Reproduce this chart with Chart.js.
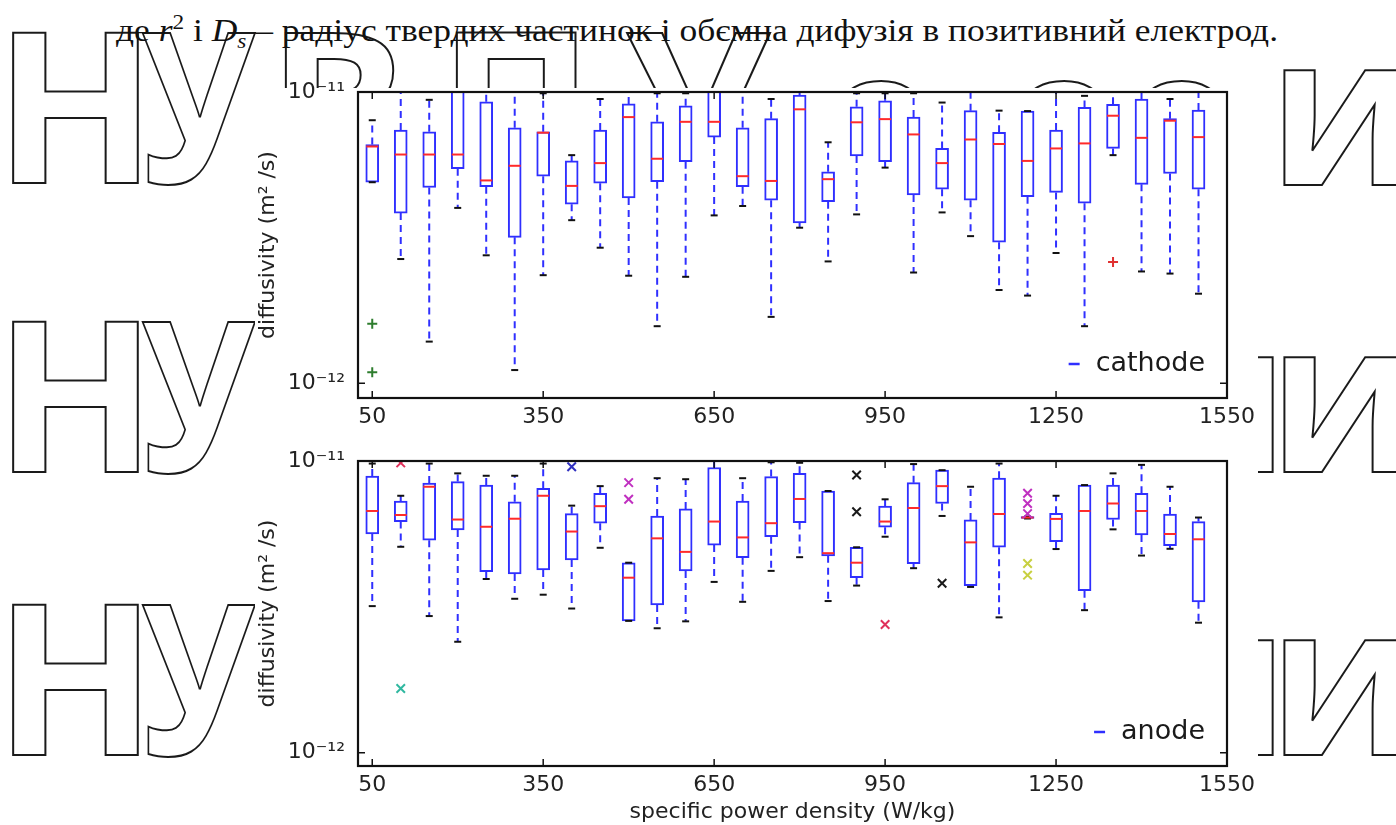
<!DOCTYPE html>
<html><head><meta charset="utf-8">
<script src="https://cdn.jsdelivr.net/npm/chart.js@4.4.0/dist/chart.umd.min.js"></script>
<style>
html,body{margin:0;padding:0;background:#fff;width:1396px;height:825px;overflow:hidden;position:relative;}
#bg{position:absolute;left:0;top:0;}
#cover{position:absolute;left:255px;top:88px;width:1003px;height:737px;background:#fff;}
canvas{position:absolute;}
</style></head><body>
<svg id="bg" width="1396" height="825">
  <g font-family="Open Sans" font-weight="700" font-size="210" fill="none" stroke="#1a1a1a" stroke-width="2">
    <text x="-6" y="183" textLength="163" lengthAdjust="spacingAndGlyphs">Н</text>
    <text x="141" y="183" textLength="114" lengthAdjust="spacingAndGlyphs">У</text>
    <text x="-6" y="472" textLength="163" lengthAdjust="spacingAndGlyphs">Н</text>
    <text x="141" y="472" textLength="114" lengthAdjust="spacingAndGlyphs">У</text>
    <text x="-6" y="755" textLength="163" lengthAdjust="spacingAndGlyphs">Н</text>
    <text x="141" y="755" textLength="114" lengthAdjust="spacingAndGlyphs">У</text>
    <text x="267" y="183">В</text>
    <text x="438" y="183">П</text>
    <text x="625" y="183" textLength="145" lengthAdjust="spacingAndGlyphs">У</text>
    <text x="822" y="187" font-size="190">о</text>
    <text x="1005" y="187" font-size="190">оо</text>
    <text x="1268" y="185">и</text>
    <text x="1150" y="472">н</text>
    <text x="1268" y="472">и</text>
    <text x="1150" y="755">н</text>
    <text x="1268" y="755">и</text>
  </g>
  <text x="116" y="41" font-family="Liberation Serif" font-size="32" fill="#111" textLength="1162" lengthAdjust="spacingAndGlyphs">де <tspan font-style="italic">r</tspan><tspan dy="-12" font-size="21">2</tspan><tspan dy="12"> і </tspan><tspan font-style="italic">D</tspan><tspan font-style="italic" dy="7" font-size="21">s</tspan><tspan dy="-7"> – радіус твердих частинок і обємна дифузія в позитивний електрод.</tspan></text>
</svg>
<div id="cover"></div>
<canvas id="c1" width="1030" height="380" style="left:250px;top:60px;width:1030px;height:380px"></canvas>
<canvas id="c2" width="1030" height="385" style="left:250px;top:440px;width:1030px;height:385px"></canvas>
<script>
// ---- categories (specific power density, W/kg) ----
const powerDensity = [50,100,150,200,250,300,350,400,450,500,550,600,650,700,750,800,850,900,950,1000,1050,1100,1150,1200,1250,1300,1350,1400,1450,1500];
const xTickValues = [50,350,650,950,1250,1550];
const yTickValues = [1e-12, 1e-11];
const yTickLabels = ['10⁻¹²', '10⁻¹¹'];

// ---- cathode diffusivity (m²/s) ----
const cathodeMax    = [8.0e-12,11e-12,9.4e-12,11.5e-12,11e-12,11e-12,9.9e-12,6.07e-12,9.46e-12,11e-12,9.9e-12,9.9e-12,11e-12,10.5e-12,9.46e-12,11e-12,6.72e-12,9.9e-12,9.9e-12,9.9e-12,9.2e-12,10.5e-12,8.63e-12,8.6e-12,10.5e-12,9.7e-12,10.5e-12,10.5e-12,9.46e-12,10.5e-12];
const cathodeQ3     = [6.6e-12,7.4e-12,7.3e-12,10.5e-12,9.26e-12,7.54e-12,7.3e-12,5.8e-12,7.4e-12,9.1e-12,7.9e-12,8.97e-12,10.3e-12,7.54e-12,8.1e-12,9.76e-12,5.32e-12,8.9e-12,9.33e-12,8.2e-12,6.4e-12,8.63e-12,7.27e-12,8.6e-12,7.4e-12,8.85e-12,9.07e-12,9.46e-12,8.1e-12,8.67e-12];
const cathodeMedian = [6.5e-12,6.1e-12,6.1e-12,6.1e-12,4.97e-12,5.58e-12,7.25e-12,4.76e-12,5.7e-12,8.2e-12,5.9e-12,7.9e-12,7.9e-12,5.14e-12,4.95e-12,8.72e-12,5.02e-12,7.87e-12,8.07e-12,7.15e-12,5.7e-12,6.87e-12,6.63e-12,5.8e-12,6.4e-12,6.66e-12,8.29e-12,6.96e-12,7.97e-12,7.0e-12];
const cathodeQ1     = [4.9e-12,3.84e-12,4.7e-12,5.45e-12,4.73e-12,3.17e-12,5.14e-12,4.12e-12,4.86e-12,4.33e-12,4.92e-12,5.76e-12,7.0e-12,4.73e-12,4.25e-12,3.55e-12,4.2e-12,6.03e-12,5.76e-12,4.43e-12,4.64e-12,4.25e-12,3.05e-12,4.37e-12,4.52e-12,4.15e-12,6.4e-12,4.82e-12,5.25e-12,4.64e-12];
const cathodeMin    = [4.9e-12,2.67e-12,1.39e-12,4.0e-12,2.75e-12,1.11e-12,2.35e-12,3.63e-12,2.92e-12,2.34e-12,1.57e-12,2.32e-12,3.77e-12,4.06e-12,1.69e-12,3.42e-12,2.62e-12,3.8e-12,5.5e-12,2.4e-12,3.86e-12,3.2e-12,2.09e-12,2.0e-12,2.8e-12,1.57e-12,6.07e-12,2.42e-12,2.38e-12,2.03e-12];
const cathodeFliersGreen = [[50,1.6e-12],[50,1.09e-12]];
const cathodeFliersRed   = [[1350,2.61e-12]];

// ---- anode diffusivity (m²/s) ----
const anodeMax    = [9.8e-12,7.6e-12,9.8e-12,9.07e-12,8.9e-12,8.9e-12,9.8e-12,7.03e-12,8.2e-12,4.48e-12,8.73e-12,8.66e-12,10.5e-12,8.73e-12,9.9e-12,9.86e-12,7.89e-12,5.06e-12,7.39e-12,9.76e-12,9.3e-12,8.16e-12,9.8e-12,6.45e-12,7.6e-12,8.27e-12,9.07e-12,9.7e-12,8.16e-12,6.4e-12];
const anodeQ3     = [8.88e-12,7.29e-12,8.4e-12,8.5e-12,8.27e-12,7.25e-12,8.06e-12,6.6e-12,7.75e-12,4.48e-12,6.48e-12,6.85e-12,9.5e-12,7.29e-12,8.84e-12,9.07e-12,7.89e-12,5.06e-12,7.0e-12,8.43e-12,9.3e-12,6.28e-12,8.73e-12,6.45e-12,6.62e-12,8.27e-12,8.27e-12,7.75e-12,6.58e-12,6.2e-12];
const anodeMedian = [6.74e-12,6.53e-12,8.16e-12,6.3e-12,5.95e-12,6.34e-12,7.6e-12,5.73e-12,7.0e-12,3.98e-12,5.43e-12,4.88e-12,6.2e-12,5.47e-12,6.12e-12,7.41e-12,4.83e-12,4.48e-12,6.2e-12,6.9e-12,8.2e-12,5.26e-12,6.58e-12,6.4e-12,6.33e-12,6.74e-12,7.15e-12,6.74e-12,5.62e-12,5.39e-12];
const anodeQ1     = [5.62e-12,6.2e-12,5.35e-12,5.8e-12,4.17e-12,4.1e-12,4.23e-12,4.58e-12,6.12e-12,2.83e-12,3.21e-12,4.2e-12,5.15e-12,4.66e-12,5.5e-12,6.15e-12,4.73e-12,3.98e-12,5.93e-12,4.45e-12,7.15e-12,3.74e-12,5.06e-12,6.35e-12,5.29e-12,3.59e-12,6.3e-12,5.58e-12,5.13e-12,3.29e-12];
const anodeMin    = [3.18e-12,5.08e-12,2.94e-12,2.4e-12,3.94e-12,3.37e-12,3.48e-12,3.12e-12,5.04e-12,2.83e-12,2.67e-12,2.82e-12,3.85e-12,3.29e-12,4.2e-12,4.68e-12,3.31e-12,3.74e-12,5.5e-12,4.29e-12,6.48e-12,3.7e-12,2.91e-12,6.35e-12,4.99e-12,3.08e-12,5.83e-12,4.74e-12,5.0e-12,2.79e-12];
const anodeFliersRed     = [[100,9.85e-12],[950,2.75e-12]];
const anodeFliersCyan    = [[100,1.66e-12]];
const anodeFliersBlue    = [[400,9.56e-12]];
const anodeFliersMagenta = [[500,8.43e-12],[500,7.39e-12],[1200,7.75e-12],[1200,7.15e-12],[1200,6.6e-12]];
const anodeFliersBlack   = [[900,8.95e-12],[900,6.7e-12],[1050,3.81e-12]];
const anodeFliersYellow  = [[1200,4.45e-12],[1200,4.06e-12]];

const BLUE = '#2f2fff', RED = '#ff2a2a', FONT = 'DejaVu Sans';
Chart.defaults.font.family = FONT;

const framePlugin = {
  id: 'frame',
  afterDraw(chart, args, opts) {
    const {ctx, chartArea: a, scales} = chart;
    ctx.save();
    ctx.strokeStyle = '#111'; ctx.lineWidth = 2.2;
    ctx.strokeRect(a.left, a.top, a.right - a.left, a.bottom - a.top);
    ctx.lineWidth = 1.5;
    ctx.beginPath();
    xTickValues.forEach(v => {
      const px = scales.x.getPixelForValue(v);
      ctx.moveTo(px, a.bottom); ctx.lineTo(px, a.bottom - 7);
      ctx.moveTo(px, a.top); ctx.lineTo(px, a.top + 7);
    });
    yTickValues.forEach(v => {
      const py = scales.y.getPixelForValue(v);
      ctx.moveTo(a.left, py); ctx.lineTo(a.left + 7, py);
      ctx.moveTo(a.right, py); ctx.lineTo(a.right - 7, py);
    });
    ctx.stroke();
    ctx.font = '27px "' + FONT + '"';
    ctx.fillStyle = '#1a1a1a'; ctx.textAlign = 'right'; ctx.textBaseline = 'middle';
    const tx = a.right - 22, ty = a.bottom - 34;
    ctx.fillText(opts.label, tx, ty);
    const w = ctx.measureText(opts.label).width;
    ctx.strokeStyle = BLUE; ctx.lineWidth = 2.5;
    ctx.beginPath(); ctx.moveTo(tx - w - opts.gap - 11, ty); ctx.lineTo(tx - w - opts.gap, ty); ctx.stroke();
    ctx.restore();
  }
};

function build(id, d, padTop, xAxisH, yMin, legend, gap, showXTitle, fliers, flierStyle, flierR) {
  const whisk = [], caps = [];
  powerDensity.forEach((x, i) => {
    whisk.push({x, y: d.q3[i]}, {x, y: d.max[i]}, {x, y: null}, {x, y: d.q1[i]}, {x, y: d.min[i]}, {x, y: null});
    caps.push({x, y: d.max[i]}, {x, y: d.min[i]});
  });
  const datasets = [
    {type: 'line', data: whisk, borderColor: BLUE, borderWidth: 2, borderDash: [7, 5], pointRadius: 0, spanGaps: false, clip: 0, order: 6},
    {type: 'bar', data: powerDensity.map((x, i) => ({x, y: [d.q1[i], d.q3[i]]})), backgroundColor: '#fff', borderColor: BLUE, borderWidth: 2, borderSkipped: false, barThickness: 13, clip: 0, order: 5},
    {type: 'line', data: caps, showLine: false, pointStyle: 'line', pointRadius: 3.5, pointBorderColor: '#111', pointBorderWidth: 2, clip: 0, order: 4},
    {type: 'line', data: powerDensity.map((x, i) => ({x, y: d.med[i]})), showLine: false, pointStyle: 'line', pointRadius: 6, pointBorderColor: RED, pointBorderWidth: 2, clip: 0, order: 3}
  ];
  fliers.forEach(f => datasets.push({type: 'line', data: f.pts.map(p => ({x: p[0], y: p[1]})), showLine: false, pointStyle: flierStyle, pointRadius: flierR, pointBorderColor: f.color, pointBorderWidth: 2, clip: 0, order: 1}));
  new Chart(document.getElementById(id), {
    type: 'bar',
    data: {datasets},
    options: {
      animation: false, responsive: false, maintainAspectRatio: false,
      layout: {padding: {left: 0, right: 53, top: padTop, bottom: 0}},
      plugins: {legend: {display: false}, tooltip: {enabled: false}, frame: {label: legend, gap}},
      scales: {
        x: {type: 'linear', min: 25, max: 1550, bounds: 'data', offset: false,
            afterBuildTicks: s => { s.ticks = xTickValues.map(v => ({value: v})); },
            afterFit: s => { s.height = xAxisH; s.paddingLeft = 0; s.paddingRight = 0; },
            grid: {display: false, drawTicks: false, offset: false}, border: {display: false},
            ticks: {padding: 6, autoSkip: false, maxRotation: 0, color: '#222', font: {size: 22}, callback: v => String(v)},
            title: {display: showXTitle, text: 'specific power density (W/kg)', color: '#222', font: {size: 22}, padding: {top: 0, bottom: 0}}},
        y: {type: 'logarithmic', min: yMin, max: 1e-11, bounds: 'data',
            afterBuildTicks: s => { s.ticks = yTickValues.map(v => ({value: v})); },
            afterFit: s => { s.width = 108; s.paddingTop = 0; s.paddingBottom = 0; },
            grid: {display: false, drawTicks: false}, border: {display: false},
            ticks: {padding: 13, color: '#222', font: {size: 22}, callback: v => yTickLabels[yTickValues.indexOf(v)]},
            title: {display: true, text: 'diffusivity (m² /s)', color: '#222', font: {size: 22}, padding: {top: 5, bottom: 0}}}
      }
    },
    plugins: [framePlugin]
  });
}

build('c1', {max: cathodeMax, q3: cathodeQ3, med: cathodeMedian, q1: cathodeQ1, min: cathodeMin}, 32, 42, 8.9e-13, 'cathode', 16, false,
  [{pts: cathodeFliersGreen, color: '#2e7d2e'}, {pts: cathodeFliersRed, color: '#e03030'}], 'cross', 5);
build('c2', {max: anodeMax, q3: anodeQ3, med: anodeMedian, q1: anodeQ1, min: anodeMin}, 21, 59, 9.0e-13, 'anode', 16, true,
  [{pts: anodeFliersRed, color: '#e0305a'}, {pts: anodeFliersCyan, color: '#30b8a0'}, {pts: anodeFliersBlue, color: '#3030c0'},
   {pts: anodeFliersMagenta, color: '#c030c0'}, {pts: anodeFliersBlack, color: '#1a1a1a'}, {pts: anodeFliersYellow, color: '#c8d040'}], 'crossRot', 6);
</script>
</body></html>
